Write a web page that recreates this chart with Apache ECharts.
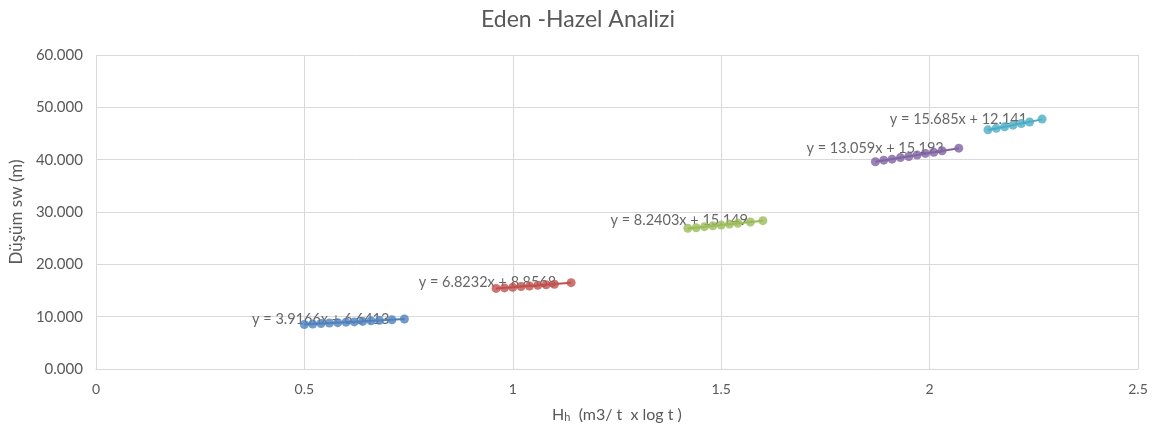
<!DOCTYPE html>
<html><head><meta charset="utf-8">
<script src="https://cdn.jsdelivr.net/npm/echarts@6/dist/echarts.min.js"></script>
<style>html,body{margin:0;padding:0;background:#fff}#c{width:1156px;height:433px}</style>
</head><body><div id="c"></div>
<script>
var title = 'Eden -Hazel Analizi';
var yAxisName = 'Düşüm sw (m)';
var xTicks = [0, 0.5, 1, 1.5, 2, 2.5];
var blueX = [0.50,0.52,0.54,0.56,0.58,0.60,0.62,0.64,0.66,0.68,0.71,0.74];
var blueY = [8.5,8.6,8.7,8.8,8.85,8.95,9.0,9.1,9.2,9.3,9.4,9.55];
var redX = [0.96,0.98,1.00,1.02,1.04,1.06,1.08,1.10,1.14];
var redY = [15.4,15.5,15.6,15.75,15.85,16.0,16.1,16.2,16.5];
var greenX = [1.42,1.44,1.46,1.48,1.50,1.52,1.54,1.57,1.60];
var greenY = [26.9,27.0,27.2,27.35,27.5,27.7,27.85,28.1,28.35];
var purpleX = [1.87,1.89,1.91,1.93,1.95,1.97,1.99,2.01,2.03,2.07];
var purpleY = [39.6,39.9,40.1,40.4,40.6,40.9,41.2,41.4,41.7,42.2];
var cyanX = [2.14,2.16,2.18,2.20,2.22,2.24,2.27];
var cyanY = [45.7,46.0,46.3,46.6,46.9,47.2,47.75];
var eqLabels = ['y = 3.9166x + 6.6413','y = 6.8232x + 8.8568','y = 8.2403x + 15.149','y = 13.059x + 15.193','y = 15.685x + 12.141'];
var colors = ['#4F81BD','#C0504D','#9BBB59','#8064A2','#4BACC6'];

var groups = [[blueX,blueY],[redX,redY],[greenX,greenY],[purpleX,purpleY],[cyanX,cyanY]];
function fit(xs, ys){
  var n=xs.length,sx=0,sy=0,sxx=0,sxy=0;
  for(var i=0;i<n;i++){sx+=xs[i];sy+=ys[i];sxx+=xs[i]*xs[i];sxy+=xs[i]*ys[i];}
  var b=(n*sxy-sx*sy)/(n*sxx-sx*sx), a=(sy-b*sx)/n; return [a,b];
}
var series = [];
groups.forEach(function(g, k){
  var xs=g[0], ys=g[1];
  var ab = fit(xs, ys);
  var x0 = xs[0], x1 = xs[xs.length-1];
  series.push({type:'scatter', silent:true, z:1, symbolSize:2,
    itemStyle:{color:'rgba(0,0,0,0)'},
    data:[[x1, ab[0]+ab[1]*x1]],
    label:{show:true, position:'left', distance:14, formatter:eqLabels[k],
      color:'#404040', fontSize:14.5, fontFamily:'Lato'}});
  series.push({type:'line', zlevel:1, data:[[x0, ab[0]+ab[1]*x0],[x1, ab[0]+ab[1]*x1]],
    symbol:'none', silent:true, z:2,
    lineStyle:{color:colors[k], width:2}});
  series.push({type:'scatter', zlevel:1, data: xs.map(function(x,i){return [x, ys[i]];}),
    symbolSize:9, itemStyle:{color:colors[k]}, z:3});
});
var chart = echarts.init(document.getElementById('c'), null, {renderer:'canvas'});
chart.setOption({
  animation:false,
  backgroundColor:'#fff',
  title:{text:title, left:'center', top:3, textStyle:{fontFamily:'Lato', fontSize:23, fontWeight:'normal', color:'#595959'}},
  grid:{left:95, right:18, top:55, bottom:64},
  xAxis:{type:'value', min:0, max:2.5, interval:0.5,
    name:'{h|H}{s|h}{t|  (m3/ t  x log t )}', nameLocation:'middle', nameGap:38,
    nameTextStyle:{rich:{h:{fontSize:16,color:'#595959',fontFamily:'Lato'},s:{fontSize:11,color:'#595959',fontFamily:'Lato',verticalAlign:'bottom',padding:[5,0,0,0]},t:{fontSize:16,color:'#595959',fontFamily:'Lato'}}},
    axisLine:{show:true, lineStyle:{color:'#D9D9D9'}}, axisTick:{show:false},
    axisLabel:{color:'#595959', fontSize:14, fontFamily:'Lato', margin:13,
      formatter:function(v){return String(v);}},
    splitLine:{show:true, lineStyle:{color:'#D9D9D9'}}},
  yAxis:{type:'value', min:0, max:60, interval:10,
    name:yAxisName, nameLocation:'middle', nameGap:70,
    nameTextStyle:{color:'#595959', fontSize:17, fontFamily:'Lato'},
    axisLine:{show:false}, axisTick:{show:false},
    axisLabel:{color:'#595959', fontSize:15, fontFamily:'Lato', margin:13,
      formatter:function(v){return v.toFixed(3);}},
    splitLine:{show:true, lineStyle:{color:'#D9D9D9'}}},
  series: series
});
</script></body></html>
